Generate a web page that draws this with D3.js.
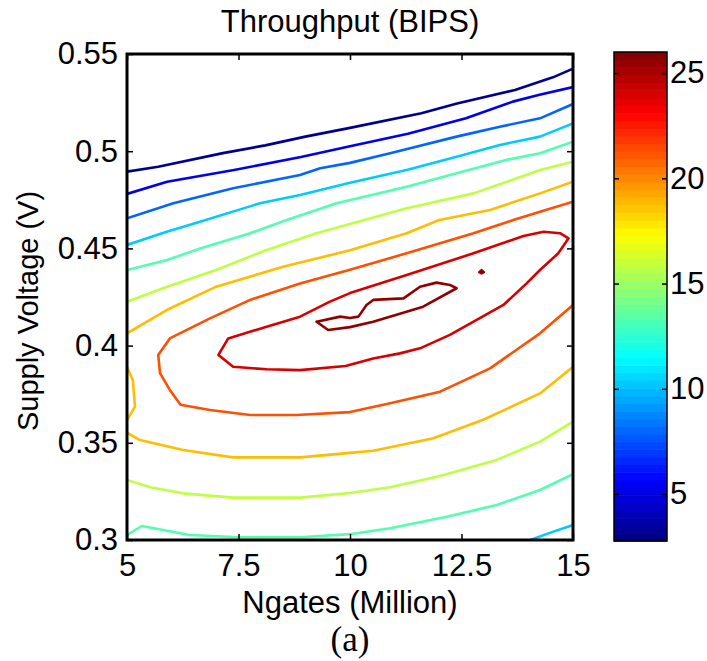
<!DOCTYPE html>
<html>
<head>
<meta charset="utf-8">
<script src="https://cdn.jsdelivr.net/npm/d3@7"></script>
<style>
  html, body { margin: 0; padding: 0; background: #fff; }
  svg { display: block; }
  text { font-family: "Liberation Sans", Arial, sans-serif; fill: #000; }
</style>
</head>
<body>
<svg id="chart" width="707" height="661"></svg>
<script>
// Throughput (BIPS) over the Ngates / supply-voltage design space.
const xTicks = [5, 7.5, 10, 12.5, 15];
const yTicks = [0.3, 0.35, 0.4, 0.45, 0.5, 0.55];
const colorTicks = [5, 10, 15, 20, 25];
const colorRange = [2.77, 26.0];

// contour levels (BIPS), lowest to highest
const levels = [3.1, 5.3, 8.0, 10.3, 13.3, 15.8, 18.8, 21.3, 24.0, 25.6];

// contour polylines, [Ngates (Million), Supply Voltage (V)]
const contour3_1 = [[5,0.4895],[5.7,0.492],[7.15,0.499],[8.1,0.503],[9.0,0.5075],[10,0.512],[11.6,0.5195],[12.4,0.5245],[13.7,0.5315],[14.55,0.538],[15,0.5425]];
const contour5_3 = [[5,0.478],[5.9,0.4843],[7.4,0.4903],[8.9,0.497],[10,0.5025],[11.3,0.509],[12.6,0.517],[13.65,0.5255],[14.25,0.529],[15,0.533]];
const contour8_0 = [[5,0.4655],[6.04,0.4732],[7.38,0.4809],[8.88,0.4878],[9.33,0.4912],[10,0.494],[10.9,0.4989],[12.39,0.5075],[13.36,0.5126],[14.26,0.5169],[15,0.5243]];
const contour10_3 = [[5,0.4518],[5.89,0.4586],[6.6,0.4635],[7.98,0.4732],[8.88,0.4775],[10,0.4838],[11.27,0.4903],[12.39,0.4972],[13.36,0.5032],[14.26,0.5075],[15,0.5143]];
const contour10_3b = [[14.04,0.3],[14.56,0.3043],[15,0.3077]];
const contour13_3 = [[5,0.4389],[5.9,0.444],[6.64,0.45],[7.76,0.4578],[8.58,0.4646],[9.7,0.4732],[11.27,0.4817],[12.39,0.4886],[13.5,0.4955],[14.26,0.4989],[15,0.5049]];
const contour13_3b = [[5,0.3026],[5.33,0.3072],[6.41,0.3026],[7.53,0.3014],[8.88,0.3014],[10,0.303],[10.9,0.306],[12.17,0.312],[13.29,0.318],[14.26,0.3257],[15,0.3339]];
const contour15_8 = [[5,0.4226],[5.9,0.4303],[7.0,0.4389],[8.13,0.4492],[9.25,0.4578],[10,0.4625],[11.27,0.4706],[12.77,0.4783],[14.26,0.4903],[15,0.4946]];
const contour15_8b = [[5,0.3309],[5.52,0.3271],[6.26,0.324],[7.38,0.3218],[8.88,0.3218],[10,0.3242],[10.9,0.3271],[12.02,0.3329],[13.29,0.3412],[14.26,0.3506],[15,0.3609]];
const contour18_8 = [[5,0.4063],[5.89,0.4183],[7.0,0.4303],[8.5,0.4406],[10,0.449],[11.27,0.4578],[12.0,0.4646],[13.14,0.4698],[14.26,0.4783],[15,0.4843]];
const contour18_8b = [[5,0.3552],[5.29,0.3514],[6.26,0.3463],[7.38,0.3425],[8.88,0.3425],[10,0.3448],[10.52,0.3459],[11.87,0.3523],[13.0,0.362],[14.26,0.3754],[15,0.3891]];
const contour18_8c = [[5.0,0.3891],[5.13,0.3823],[5.18,0.3686],[5.0,0.3617]];
const contour21_3 = [[15,0.474],[14.26,0.4689],[13.66,0.4646],[12.77,0.4578],[11.27,0.4475],[10,0.439],[8.88,0.432],[7.76,0.4235],[6.86,0.414],[5.96,0.4037],[5.7,0.3952],[5.74,0.3858],[5.96,0.3772],[6.2,0.3696],[6.86,0.3669],[7.76,0.3643],[8.8,0.3643],[10,0.3658],[10.9,0.3703],[12.02,0.3763],[13.14,0.3883],[14.26,0.4063],[15,0.4209]];
const contour24_0 = [[7.05,0.3952],[7.27,0.4037],[8.13,0.4097],[8.88,0.4149],[9.55,0.4226],[10,0.427],[11.27,0.4363],[12.77,0.4475],[13.89,0.4564],[14.34,0.4586],[14.71,0.4578],[14.9,0.4552],[14.67,0.4475],[14.26,0.4389],[13.96,0.432],[13.44,0.4209],[12.84,0.4132],[12.24,0.4055],[11.57,0.3986],[11.12,0.396],[10.52,0.3934],[9.9,0.3895],[8.88,0.3874],[8.13,0.3878],[7.38,0.3891],[7.05,0.3952]];
const contour25_6 = [[9.25,0.4123],[9.51,0.408],[10,0.4095],[10.52,0.4123],[11.64,0.42],[12.39,0.4295],[12.24,0.4312],[11.94,0.4324],[11.57,0.4303],[11.2,0.4243],[10.52,0.4235],[10.37,0.4209],[10.19,0.4149],[10,0.4142],[9.78,0.4149],[9.25,0.4123]];
const contour25_6b = [[12.9,0.4378],[12.95,0.4388],[13.0,0.4378],[12.95,0.4372],[12.9,0.4378]];

const contourLines = [
  { level: levels[0], points: contour3_1 },
  { level: levels[1], points: contour5_3 },
  { level: levels[2], points: contour8_0 },
  { level: levels[3], points: contour10_3 },
  { level: levels[3], points: contour10_3b },
  { level: levels[4], points: contour13_3 },
  { level: levels[4], points: contour13_3b },
  { level: levels[5], points: contour15_8 },
  { level: levels[5], points: contour15_8b },
  { level: levels[6], points: contour18_8 },
  { level: levels[6], points: contour18_8b },
  { level: levels[6], points: contour18_8c },
  { level: levels[7], points: contour21_3 },
  { level: levels[8], points: contour24_0 },
  { level: levels[9], points: contour25_6 },
  { level: levels[9], points: contour25_6b }
];

// MATLAB-style jet colormap
function jet(t) {
  t = Math.max(0, Math.min(1, t));
  const r = Math.max(0, Math.min(1, Math.min(4 * t - 1.5, -4 * t + 4.5)));
  const g = Math.max(0, Math.min(1, Math.min(4 * t - 0.5, -4 * t + 3.5)));
  const b = Math.max(0, Math.min(1, Math.min(4 * t + 0.5, -4 * t + 2.5)));
  return d3.rgb(r * 255, g * 255, b * 255).toString();
}
const jetSteps = 64;
const levelColor = v => jet((v - colorRange[0]) / (colorRange[1] - colorRange[0]));

const svg = d3.select("#chart");
const plot = { left: 127, right: 573, top: 54, bottom: 540 };
const x = d3.scaleLinear().domain([5, 15]).range([plot.left, plot.right]);
const y = d3.scaleLinear().domain([0.3, 0.55]).range([plot.bottom, plot.top]);

svg.append("defs").append("clipPath").attr("id", "plotClip")
  .append("rect")
  .attr("x", plot.left).attr("y", plot.top)
  .attr("width", plot.right - plot.left).attr("height", plot.bottom - plot.top);

const line = d3.line().x(d => x(d[0])).y(d => y(d[1]));

svg.append("g").attr("clip-path", "url(#plotClip)")
  .selectAll("path").data(contourLines).join("path")
  .attr("d", d => line(d.points))
  .attr("fill", "none")
  .attr("stroke", d => levelColor(d.level))
  .attr("stroke-width", 2.6)
  .attr("stroke-linejoin", "round")
  .attr("stroke-linecap", "round");

// axes with inward ticks on all four sides
const fmt = d3.format("~g");
const fontSize = 31;
function styleAxis(g) {
  g.select(".domain").remove();
  g.selectAll(".tick line").attr("stroke", "#000").attr("stroke-width", 1.5);
  g.selectAll(".tick text").attr("font-size", fontSize)
    .attr("font-family", "Liberation Sans, Arial, sans-serif");
}
svg.append("g").attr("transform", `translate(0,${plot.bottom})`)
  .call(d3.axisBottom(x).tickValues(xTicks).tickFormat(fmt).tickSizeInner(-6).tickSizeOuter(0).tickPadding(14))
  .call(styleAxis);
svg.append("g").attr("transform", `translate(0,${plot.top})`)
  .call(d3.axisTop(x).tickValues(xTicks).tickFormat("").tickSizeInner(-6).tickSizeOuter(0))
  .call(styleAxis);
svg.append("g").attr("transform", `translate(${plot.left},0)`)
  .call(d3.axisLeft(y).tickValues(yTicks).tickFormat(fmt).tickSizeInner(-6).tickSizeOuter(0).tickPadding(9))
  .call(styleAxis);
svg.append("g").attr("transform", `translate(${plot.right},0)`)
  .call(d3.axisRight(y).tickValues(yTicks).tickFormat("").tickSizeInner(-6).tickSizeOuter(0))
  .call(styleAxis);

svg.append("rect")
  .attr("x", plot.left).attr("y", plot.top)
  .attr("width", plot.right - plot.left).attr("height", plot.bottom - plot.top)
  .attr("fill", "none").attr("stroke", "#000").attr("stroke-width", 3);

// titles
svg.append("text").attr("x", (plot.left + plot.right) / 2).attr("y", 32)
  .attr("text-anchor", "middle").attr("font-size", fontSize).text("Throughput (BIPS)");
svg.append("text").attr("x", (plot.left + plot.right) / 2).attr("y", 613)
  .attr("text-anchor", "middle").attr("font-size", fontSize).text("Ngates (Million)");
svg.append("text").attr("transform", `translate(38,${(plot.top + plot.bottom) / 2 + 14}) rotate(-90)`)
  .attr("text-anchor", "middle").attr("font-size", 29).text("Supply Voltage (V)");
svg.append("text").attr("x", (plot.left + plot.right) / 2).attr("y", 651)
  .attr("text-anchor", "middle").attr("font-size", 35)
  .style("font-family", "'Liberation Serif', 'Times New Roman', serif").text("(a)");

// colorbar
const cb = { left: 614, right: 667, top: 52, bottom: 541 };
const c = d3.scaleLinear().domain(colorRange).range([cb.bottom, cb.top]);
const bandStep = (colorRange[1] - colorRange[0]) / jetSteps;
const bands = d3.range(jetSteps).map(i => colorRange[0] + i * bandStep);
svg.append("g").selectAll("rect").data(bands).join("rect")
  .attr("x", cb.left).attr("width", cb.right - cb.left)
  .attr("y", d => c(d + bandStep))
  .attr("height", d => c(d) - c(d + bandStep) + 0.6)
  .attr("fill", (d, i) => jet((i + 0.5) / jetSteps));

svg.append("g").attr("transform", `translate(${cb.right},0)`)
  .call(d3.axisRight(c).tickValues(colorTicks).tickFormat(fmt).tickSizeInner(-5).tickSizeOuter(0).tickPadding(3))
  .call(styleAxis);
svg.append("g").attr("transform", `translate(${cb.left},0)`)
  .call(d3.axisLeft(c).tickValues(colorTicks).tickFormat("").tickSizeInner(-5).tickSizeOuter(0))
  .call(styleAxis);
svg.append("rect")
  .attr("x", cb.left).attr("y", cb.top)
  .attr("width", cb.right - cb.left).attr("height", cb.bottom - cb.top)
  .attr("fill", "none").attr("stroke", "#000").attr("stroke-width", 1.5);
</script>
</body>
</html>
